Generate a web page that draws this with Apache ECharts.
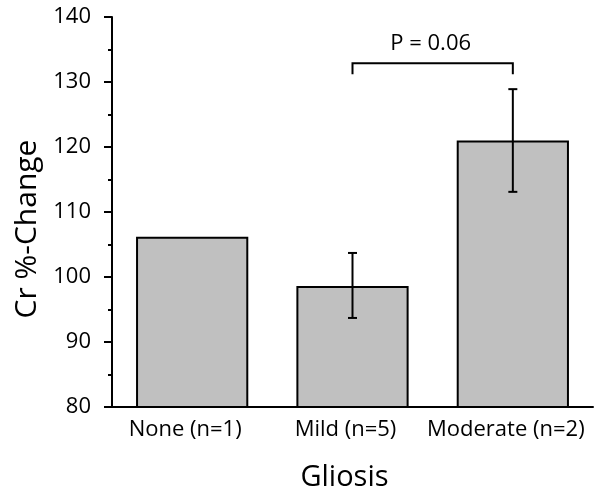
<!DOCTYPE html>
<html>
<head>
<meta charset="utf-8">
<script src="https://cdn.jsdelivr.net/npm/echarts@6/dist/echarts.min.js"></script>
<style>html,body{margin:0;padding:0;background:#fff}#c{width:602px;height:497px}</style>
</head>
<body>
<div id="c"></div>
<script>
// Data
var categories = ['None (n=1)', 'Mild (n=5)', 'Moderate (n=2)'];
var means = [106.2, 98.6, 121.0];
var errLow = [null, 93.7, 113.1];
var errHigh = [null, 103.7, 128.9];
var yTicks = [80, 90, 100, 110, 120, 130, 140];
var bracketFrom = 1, bracketTo = 2;
var bracketTopY = 132.9, bracketEndY = 131.2;
var bracketLabel = 'P = 0.06';
var bracketLabelY = 135.9;

var FONT = 'Open Sans';
var chart = echarts.init(document.getElementById('c'), null, {renderer: 'canvas'});

var errData = [];
for (var i = 0; i < categories.length; i++) {
  if (errLow[i] != null) errData.push([i, errLow[i], errHigh[i]]);
}

var option = {
  animation: false,
  backgroundColor: '#fff',
  grid: {left: 112, right: 9, top: 17, bottom: 89},
  xAxis: [{
    type: 'category',
    data: categories,
    boundaryGap: true,
    axisLine: {lineStyle: {color: '#000', width: 2}},
    axisTick: {alignWithLabel: true, length: 6, lineStyle: {color: '#000', width: 2}},
    axisLabel: {color: '#000', fontFamily: FONT, fontSize: 22, margin: 12, interval: 0, hideOverlap: false, padding: [0, 14, 0, 0]},
    name: 'Gliosis',
    nameLocation: 'middle',
    nameGap: 56,
    nameTextStyle: {color: '#000', fontFamily: FONT, fontSize: 29, padding: [0, 16, 0, 0]}
  }, {
    type: 'category',
    data: categories,
    position: 'bottom',
    boundaryGap: true,
    axisLine: {show: false},
    axisTick: {length: 4, lineStyle: {color: '#000', width: 2}},
    axisLabel: {show: false}
  }],
  yAxis: {
    type: 'value',
    min: yTicks[0],
    max: yTicks[yTicks.length - 1],
    interval: yTicks[1] - yTicks[0],
    splitLine: {show: false},
    axisLine: {show: true, lineStyle: {color: '#000', width: 2}},
    axisTick: {show: true, length: 8, lineStyle: {color: '#000', width: 2}},
    minorTick: {show: true, splitNumber: 2, length: 4, lineStyle: {color: '#000', width: 2}},
    axisLabel: {color: '#000', fontFamily: FONT, fontSize: 22, margin: 21},
    name: 'Cr %-Change',
    nameLocation: 'middle',
    nameGap: 70,
    nameRotate: 90,
    nameTextStyle: {color: '#000', fontFamily: FONT, fontSize: 30, padding: [0, 34, 0, 0]}
  },
  series: [{
    type: 'bar',
    data: means,
    barWidth: '70%',
    itemStyle: {color: '#c0c0c0', borderColor: '#000', borderWidth: 2}
  }, {
    type: 'custom',
    data: errData,
    z: 5,
    renderItem: function (params, api) {
      var x = api.value(0);
      var lo = api.coord([x, api.value(1)]);
      var hi = api.coord([x, api.value(2)]);
      var h = 4.5;
      var st = {stroke: '#000', lineWidth: 2};
      return {type: 'group', children: [
        {type: 'line', shape: {x1: lo[0], y1: lo[1], x2: hi[0], y2: hi[1]}, style: st},
        {type: 'line', shape: {x1: lo[0] - h, y1: lo[1], x2: lo[0] + h, y2: lo[1]}, style: st},
        {type: 'line', shape: {x1: hi[0] - h, y1: hi[1], x2: hi[0] + h, y2: hi[1]}, style: st}
      ]};
    }
  }, {
    type: 'custom',
    data: [[bracketFrom, bracketTo, bracketTopY, bracketEndY, bracketLabelY]],
    z: 5,
    renderItem: function (params, api) {
      var a = api.coord([api.value(0), api.value(2)]);
      var b = api.coord([api.value(1), api.value(2)]);
      var ae = api.coord([api.value(0), api.value(3)]);
      var be = api.coord([api.value(1), api.value(3)]);
      var ty = api.coord([api.value(0), api.value(4)])[1];
      var tx = (a[0] + b[0]) / 2 - 2;
      var st = {stroke: '#000', lineWidth: 2, fill: null};
      return {type: 'group', children: [
        {type: 'polyline', shape: {points: [[ae[0], ae[1]], [a[0], a[1]], [b[0], b[1]], [be[0], be[1]]]}, style: st},
        {type: 'text', x: tx, y: ty, style: {text: bracketLabel, fill: '#000', font: '22px "' + FONT + '"', align: 'center', verticalAlign: 'middle'}}
      ]};
    }
  }]
};
chart.setOption(option);
</script>
</body>
</html>
